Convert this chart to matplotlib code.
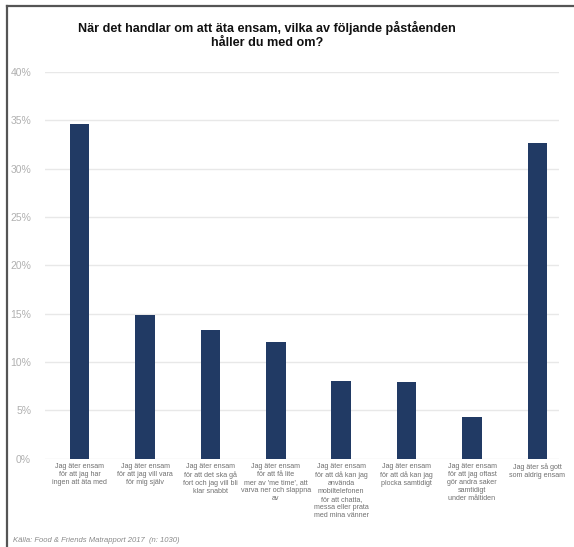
import matplotlib.pyplot as plt
from matplotlib.lines import Line2D

# Survey answers and shares (%)
categories = [
    "Jag äter ensam\nför att jag har\ningen att äta med",
    "Jag äter ensam\nför att jag vill vara\nför mig själv",
    "Jag äter ensam\nför att det ska gå\nfort och jag vill bli\nklar snabbt",
    "Jag äter ensam\nför att få lite\nmer av 'me time', att\nvarva ner och slappna\nav",
    "Jag äter ensam\nför att då kan jag\nanvända\nmobiltelefonen\nför att chatta,\nmessa eller prata\nmed mina vänner",
    "Jag äter ensam\nför att då kan jag\nplocka samtidigt",
    "Jag äter ensam\nför att jag oftast\ngör andra saker\nsamtidigt\nunder måltiden",
    "Jag äter så gott\nsom aldrig ensam",
]
values = [34.6, 14.9, 13.3, 12.1, 8.0, 7.9, 4.3, 32.7]
yticks = [0, 5, 10, 15, 20, 25, 30, 35, 40]

plt.rcParams['font.family'] = ['Liberation Sans', 'DejaVu Sans']

W, H = 574, 547
fig = plt.figure(figsize=(W / 100, H / 100), dpi=100)
ax = fig.add_axes([45 / W, 1 - 458.7 / H, (559 - 45) / W, (458.7 - 72) / H])

x = list(range(len(values)))
ax.bar(x, values, width=0.3, color="#213a64", zorder=3)

ax.set_ylim(0, 40)
ax.set_xlim(-0.53, 7.33)
ax.set_yticks(yticks)
ax.set_yticklabels([f"{t}%" for t in yticks], fontsize=7.5, color="#b0b0b0")
ax.yaxis.grid(True, color="#e8e8e8", linewidth=1)
ax.set_axisbelow(True)
ax.tick_params(axis="y", length=0, pad=10)
ax.tick_params(axis="x", length=0, pad=3)
ax.set_xticks(x)
ax.set_xticklabels(categories, fontsize=5.1, color="#707070", linespacing=1.22, va="top")
for s in ax.spines.values():
    s.set_visible(False)

fig.text(267 / W, 1 - 35 / H,
         "När det handlar om att äta ensam, vilka av följande påståenden\nhåller du med om?",
         ha="center", va="center", fontsize=9.1, fontweight="bold", color="#111111",
         linespacing=1.2)

fig.text(13 / W, 1 - 540 / H, "Källa: Food & Friends Matrapport 2017  (n: 1030)",
         ha="left", va="center", fontsize=5.5, style="italic", color="#8a8a8a")

# frame on the left and top edges
fig.add_artist(Line2D([7 / W, 7 / W], [0, 1 - 6 / H], color="#555555", linewidth=1.6))
fig.add_artist(Line2D([7 / W, 1], [1 - 6 / H, 1 - 6 / H], color="#555555", linewidth=1.6))

fig.savefig("out.png", dpi=100)
